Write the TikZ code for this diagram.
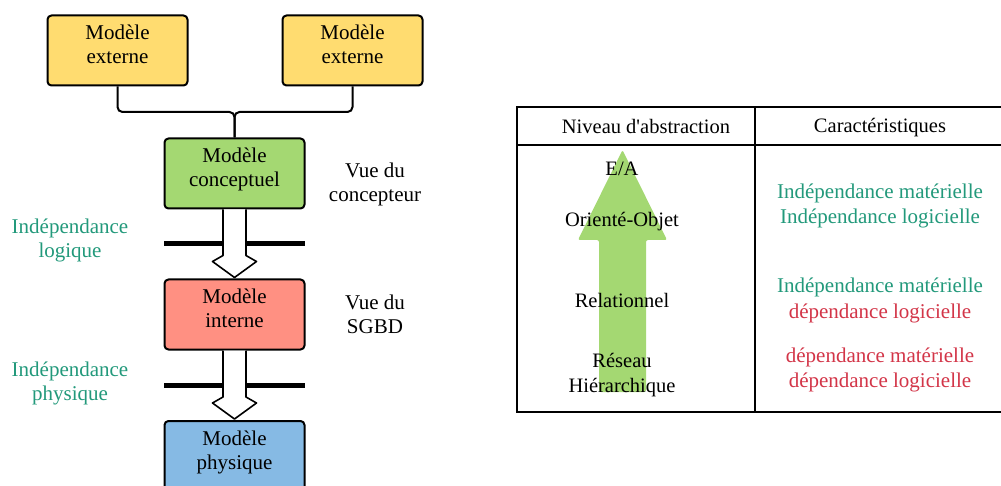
\documentclass[tikz,border=0pt]{standalone}
\usepackage{fontspec}
\setmainfont{Liberation Serif}
\usetikzlibrary{calc}
\definecolor{extfill}{HTML}{FFDC70}
\definecolor{concfill}{HTML}{A4D872}
\definecolor{intfill}{HTML}{FF9082}
\definecolor{physfill}{HTML}{86BAE4}
\definecolor{arrowgreen}{HTML}{A4D872}
\definecolor{indep}{HTML}{22997B}
\definecolor{dep}{HTML}{D33548}
\begin{document}
\begin{tikzpicture}[x=1pt,y=-1pt,
  mbox/.style={draw=black, line width=2pt, rounded corners=4pt,
    minimum width=140pt, minimum height=70pt, inner sep=0pt},
  btxt/.style={font=\fontsize{21}{24}\selectfont, align=center, anchor=base},
  conn/.style={draw=black, line width=2pt, rounded corners=5pt},
  bar/.style={line width=5pt, line cap=butt},
  harrow/.style={draw=black, fill=white, line width=1.6pt, line join=round},
  tline/.style={line width=2pt},
  tabtxt/.style={font=\fontsize{20.5}{25}\selectfont, align=center, anchor=base},
  ctxt/.style={font=\fontsize{21}{25}\selectfont, align=center, anchor=base}
]
\clip (0,0) rectangle (1001,486);
\fill[white] (0,0) rectangle (1001,486);

% model boxes
\node[mbox, fill=extfill] (ext1) at (117.5,50.5) {};
\node[mbox, fill=extfill] (ext2) at (352.5,50.5) {};
\node[mbox, fill=concfill] (conc) at (234.5,173.5) {};
\node[mbox, fill=intfill] (int) at (234.5,314.5) {};
\node[mbox, fill=physfill] (phys) at (234.5,456) {};

% box captions (anchored on the baseline of their last line)
\node[btxt] (ext1t) at (117.5,64) {Modèle\\externe};
\node[btxt] (ext2t) at (352.5,64) {Modèle\\externe};
\node[btxt] (conct) at (234.5,187) {Modèle\\conceptuel};
\node[btxt] (intt) at (234.5,327) {Modèle\\interne};
\node[btxt] (physt) at (234.5,469) {Modèle\\physique};

% external models joined to the conceptual model
\coordinate (join) at (234.5,112);
\draw[conn] (ext1.south) |- (join) -- (conc.north);
\draw[conn] (ext2.south) |- (join) -- (conc.north);

% independence barriers
\draw[bar] (164,244) -- (305,244);
\draw[bar] (164,385) -- (305,385);

% hollow arrows between levels
\draw[harrow] ($(conc.south)+(-11.5,0)$) -- ($(int.north)+(-11.5,-23)$)
  -- ($(int.north)+(-22,-17)$) -- ($(int.north)+(0,-1)$)
  -- ($(int.north)+(22,-17)$) -- ($(int.north)+(11.5,-23)$)
  -- ($(conc.south)+(11.5,0)$);
\draw[harrow] ($(int.south)+(-11.5,0)$) -- ($(phys.north)+(-11.5,-23)$)
  -- ($(phys.north)+(-22,-17)$) -- ($(phys.north)+(0,-1)$)
  -- ($(phys.north)+(22,-17)$) -- ($(phys.north)+(11.5,-23)$)
  -- ($(int.south)+(11.5,0)$);

% side labels
\node[btxt, text=indep] (ilog) at (70,258) {Indépendance\\logique};
\node[btxt, text=indep] (iphy) at (70,400) {Indépendance\\physique};
\node[btxt] (vconc) at (375,202) {Vue du\\concepteur};
\node[btxt] (vsgbd) at (375,333) {Vue du\\SGBD};

% table frame
\draw[tline] (1001,107) -- (517,107) -- (517,412) -- (1001,412);
\draw[tline] (517,145) -- (1001,145);
\draw[tline] (755,107) -- (755,412);

% abstraction arrow
\fill[arrowgreen, rounded corners=2pt] (599,392) -- (599,240) -- (578,240)
  -- (622.5,150) -- (667,240) -- (646,240) -- (646,392) -- cycle;

% table texts
\node[tabtxt] (hdA) at (646,134) {Niveau d\textquotesingle abstraction};
\node[tabtxt] (hdC) at (880,133) {Caractéristiques};
\node[tabtxt] (lvEA) at (622,176) {E/A};
\node[tabtxt] (lvOO) at (622,227) {Orienté-Objet};
\node[tabtxt] (lvRel) at (622,307) {Relationnel};
\node[tabtxt] (lvRH) at (622,392) {Réseau\\Hiérarchique};

\node[ctxt, text=indep] (c1) at (880,224) {Indépendance matérielle\\Indépendance logicielle};
\node[ctxt] (c2) at (880,318) {\textcolor{indep}{Indépendance matérielle}\\\textcolor{dep}{dépendance logicielle}};
\node[ctxt, text=dep] (c3) at (880,387) {dépendance matérielle\\dépendance logicielle};
\end{tikzpicture}
\end{document}
